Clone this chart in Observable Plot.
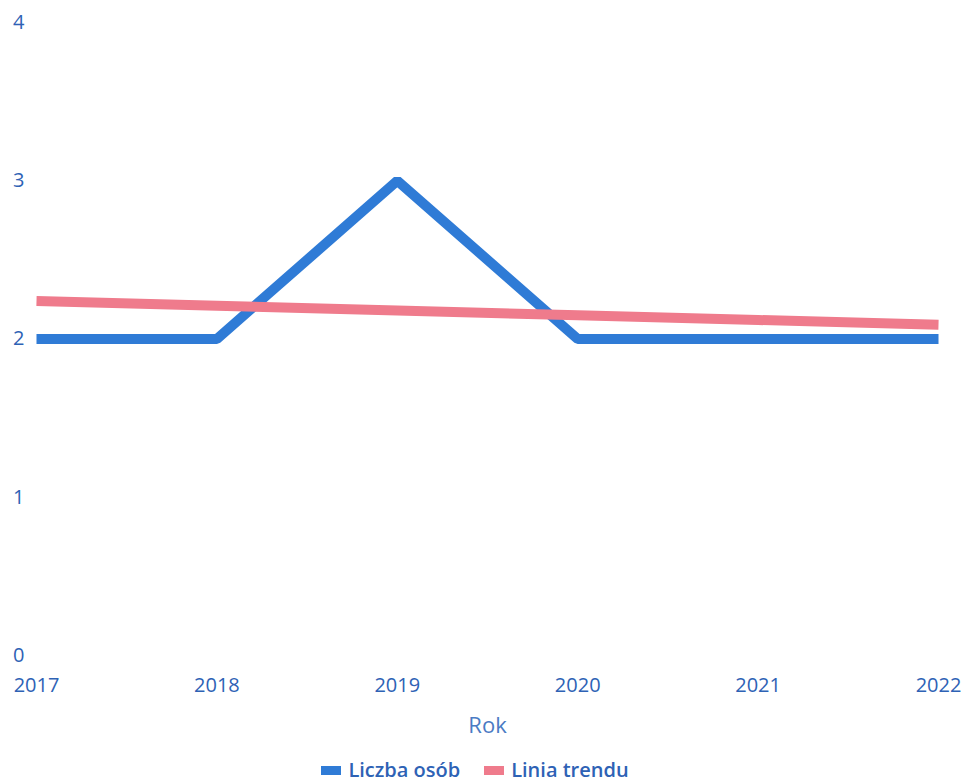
<!DOCTYPE html>
<html>
<head>
<meta charset="utf-8">
<script src="https://cdn.jsdelivr.net/npm/d3@7"></script>
<script src="https://cdn.jsdelivr.net/npm/@observablehq/plot@0.6"></script>
<style>
  body { margin: 0; background: #fff; font-family: "Open Sans", sans-serif; }
  #legend { display: flex; justify-content: center; gap: 24px; font-size: 20px; font-weight: 600; color: #2e62b5; margin-right: 12px; margin-top: 14px; }
  #legend span.sw { display: inline-block; width: 20px; height: 9px; margin-right: 7px; vertical-align: middle; position: relative; top: -1px; }
</style>
</head>
<body>
<div id="chart"></div>
<div id="legend"></div>
<script>
const years = [2017, 2018, 2019, 2020, 2021, 2022];
const liczbaOsob = [2, 2, 3, 2, 2, 2];
const liniaTrendu = [2.24, 2.21, 2.18, 2.15, 2.12, 2.09];
const yTicks = [0, 1, 2, 3, 4];
const seriesNames = ["Liczba osób", "Linia trendu"];
const colors = ["#2f7bd6", "#ef7b8c"];

const blue = years.map((y, i) => ({year: y, value: liczbaOsob[i]}));
const trend = years.map((y, i) => ({year: y, value: liniaTrendu[i]}));

const chart = Plot.plot({
  width: 962,
  height: 742,
  marginLeft: 36,
  marginRight: 24,
  marginTop: 22,
  marginBottom: 87,
  style: {fontFamily: "Open Sans, sans-serif", fontSize: "20px", color: "#2e62b5", background: "#fff"},
  x: {domain: [2017, 2022]},
  y: {domain: [0, 4]},
  marks: [
    Plot.axisX({ticks: years, tickFormat: d => String(d), tickSize: 0, tickPadding: 22, fontSize: 20, fontWeight: 500, fill: "#2e62b5", label: null}),
    Plot.text(["Rok"], {frameAnchor: "bottom", dy: 77, fontSize: 22, fill: "#4a7bc4", fontWeight: 400}),
    Plot.axisY({ticks: yTicks, tickFormat: d => String(d), tickSize: 0, tickPadding: 12, fontSize: 20, fontWeight: 500, fill: "#2e62b5", label: null, textAnchor: "end"}),
    Plot.line(blue, {x: "year", y: "value", stroke: colors[0], strokeWidth: 10, strokeLinejoin: "miter", strokeLinecap: "butt"}),
    Plot.line(trend, {x: "year", y: "value", stroke: colors[1], strokeWidth: 10, strokeLinecap: "butt"})
  ]
});
document.getElementById("chart").appendChild(chart);

const legend = document.getElementById("legend");
seriesNames.forEach((n, i) => {
  const d = document.createElement("div");
  d.innerHTML = `<span class="sw" style="background:${colors[i]}"></span>${n}`;
  legend.appendChild(d);
});
</script>
</body>
</html>
